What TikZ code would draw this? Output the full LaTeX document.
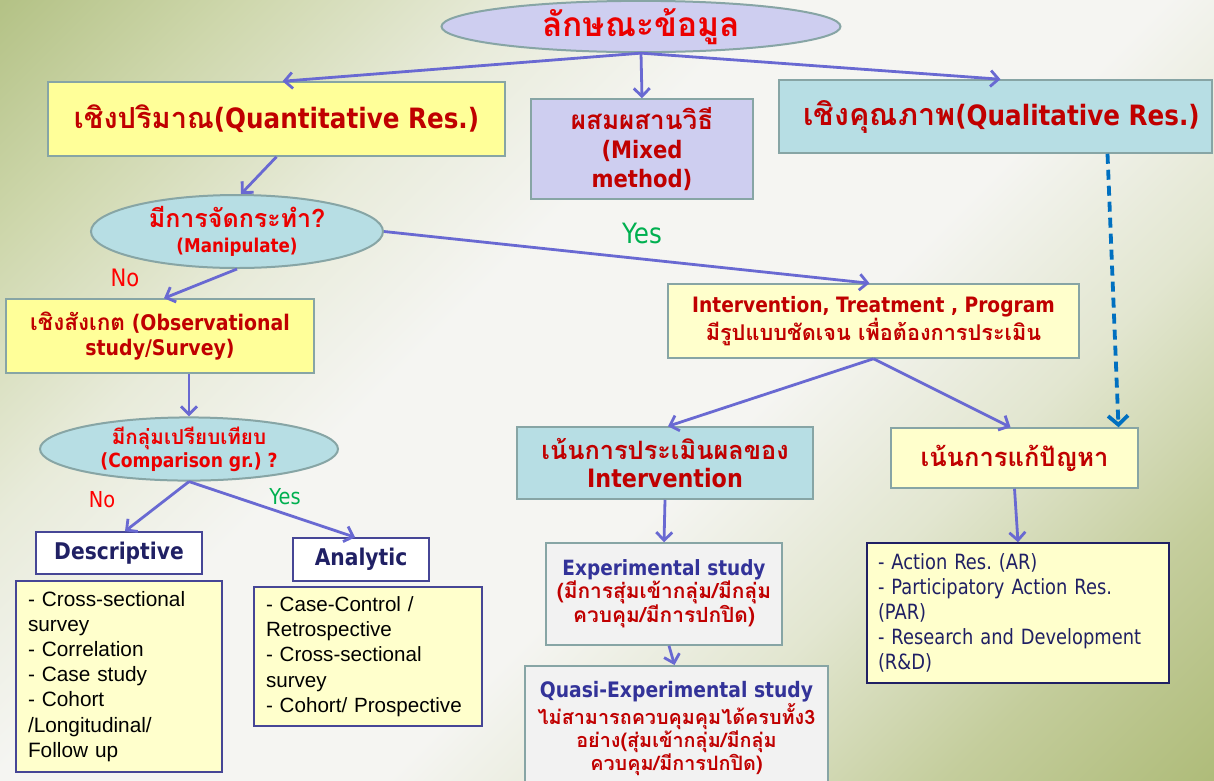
\documentclass[tikz,border=0pt]{standalone}
\usepackage{fontspec}
\setmainfont{DejaVu Sans}[FakeStretch=0.88]
\newfontfamily\thai[Script=Thai]{Loma}
\newfontfamily\arialf{Liberation Sans}
\newfontfamily\condf{DejaVu Sans}[FakeStretch=0.85]
\usetikzlibrary{shapes.geometric,arrows.meta,calc}
\frenchspacing
\newcommand\thtxt[2]{{\fontsize{#1}{#1}\selectfont\thai #2}}
\definecolor{bgA}{RGB}{175,188,122}
\definecolor{bgB}{RGB}{196,205,156}
\definecolor{bgC}{RGB}{226,230,208}
\definecolor{bgW}{RGB}{245,245,242}
\definecolor{bgD}{RGB}{232,235,218}
\definecolor{bgE}{RGB}{206,215,172}
\definecolor{bgF}{RGB}{180,194,134}
\pgfdeclareverticalshading{bgshade}{100bp}{color(0bp)=(bgA); color(14.6bp)=(bgA); color(24bp)=(bgB); color(34bp)=(bgC); color(44bp)=(bgW); color(58bp)=(bgW); color(67bp)=(bgD); color(77bp)=(bgE); color(85.4bp)=(bgF); color(100bp)=(bgF)}
\definecolor{bordc}{RGB}{135,165,165}
\definecolor{arrc}{RGB}{105,105,210}
\definecolor{dashc}{RGB}{0,112,192}
\definecolor{yel}{RGB}{255,255,153}
\definecolor{lyel}{RGB}{255,255,204}
\definecolor{lblue}{RGB}{183,222,228}
\definecolor{lav}{RGB}{206,206,240}
\definecolor{lgray}{RGB}{242,242,242}
\definecolor{dred}{RGB}{192,0,0}
\definecolor{bred}{RGB}{235,0,0}
\definecolor{gr}{RGB}{0,176,80}
\definecolor{navy}{RGB}{32,32,100}
\definecolor{blu}{RGB}{51,51,153}
\definecolor{navbord}{RGB}{70,70,150}
\tikzset{
  box/.style={draw=bordc, line width=1.5pt, rectangle, inner sep=0pt, align=center, text=dred},
  ell/.style={ellipse, draw=bordc, line width=2pt, inner sep=0pt, align=center, fill=lblue, text=bred},
  listbox/.style={draw=navbord, line width=1.5pt, rectangle, inner sep=0pt, fill=lyel, align=left},
  arr/.style={draw=arrc, line width=2.8pt, -{Straight Barb[length=8pt,width=16pt]}},
  dasharr/.style={draw=dashc, line width=3.8pt, dash pattern=on 10pt off 6pt, -{Straight Barb[length=9pt,width=20pt]}},
  lbl/.style={inner sep=0pt},
}
\begin{document}
\begin{tikzpicture}[x=1pt,y=-1pt]
\useasboundingbox (0,0) rectangle (1214,780);
\clip (0,0) rectangle (1214,780);
\shade[shading=bgshade, shading angle=45] (0,0) rectangle (1214,780);

\node[ell, fill=lav, minimum width=399, minimum height=47, font=\bfseries] (top) at (641,26.5) {\thtxt{33.5}{ลักษณะข้อมูล}};
\node[box, fill=yel, minimum width=457, minimum height=74, font=\fontsize{28}{30}\selectfont\bfseries] (quant) at (276.5,119) {\thtxt{29}{เชิงปริมาณ}(Quantitative Res.)};
\node[box, fill=lav, minimum width=222, minimum height=100, font=\fontsize{24}{29}\selectfont\bfseries] (mixed) at (642,149) {\thtxt{26}{ผสมผสานวิธี}\\(Mixed\\method)};
\node[box, fill=lblue, minimum width=433, minimum height=73, font=\fontsize{28}{30}\selectfont\bfseries] (qual) at (995.5,116.5) {\hspace{12pt}\thtxt{30.5}{เชิงคุณภาพ}(Qualitative Res.)};

\node[ell, minimum width=292, minimum height=73, font=\fontsize{19}{25}\selectfont\bfseries] (manip) at (237,231.5) {\thtxt{25}{มีการจัดกระทำ?}\\(Manipulate)};
\node[box, fill=yel, minimum width=308, minimum height=74, font=\fontsize{21.5}{25}\selectfont\bfseries] (obs) at (160,336) {\thtxt{22.6}{เชิงสังเกต} (Observational\\study/Survey)};
\node[box, fill=lyel, minimum width=411, minimum height=74, font=\fontsize{21.2}{23}\selectfont\bfseries] (interv) at (873.5,321) {Intervention, Treatment , Program\\\thtxt{21.7}{มีรูปแบบชัดเจน เพื่อต้องการประเมิน}};

\node[ell, minimum width=298, minimum height=52, font=\fontsize{19.5}{23}\selectfont\bfseries] (comp) at (189,449) {\thtxt{20.6}{มีกลุ่มเปรียบเทียบ}\\(Comparison gr.) ?};
\node[box, draw=navbord, fill=white, text=navy, minimum width=166, minimum height=42, font=\fontsize{23}{25}\selectfont\bfseries] (desc) at (119,553) {Descriptive};
\node[box, draw=navbord, fill=white, text=navy, minimum width=136, minimum height=43, font=\fontsize{23}{25}\selectfont\bfseries] (anal) at (361,559.5) {Analytic};

\node[listbox, minimum width=206, minimum height=191, text width=182, font=\arialf\fontsize{20.8}{25.1}\selectfont] (desclist) at (119,676.5) {- Cross-sectional\\survey\\- Correlation\\- Case study\\- Cohort\\/Longitudinal/\\Follow up};
\node[listbox, minimum width=228, minimum height=139, text width=204, font=\arialf\fontsize{20.6}{25.2}\selectfont] (anallist) at (368,656.5) {- Case-Control /\\Retrospective\\- Cross-sectional\\survey\\- Cohort/ Prospective};

\node[box, fill=lblue, minimum width=296, minimum height=72, font=\fontsize{25.3}{28}\selectfont\bfseries] (eval) at (665,463) {\thtxt{25.3}{เน้นการประเมินผลของ}\\Intervention};
\node[box, fill=lyel, minimum width=247, minimum height=60, font=\bfseries] (prob) at (1014.5,458) {\thtxt{25.5}{เน้นการแก้ปัญหา}};

\node[box, fill=lgray, minimum width=236, minimum height=102, font=\fontsize{21}{23}\selectfont\bfseries] (exper) at (664,594) {{\color{blu}Experimental study}\\\thtxt{20.9}{(มีการสุ่มเข้ากลุ่ม/มีกลุ่ม}\\\thtxt{20.9}{ควบคุม/มีการปกปิด)}};
\node[box, fill=lgray, anchor=north, minimum width=303, minimum height=126, font=\fontsize{21.3}{23.3}\selectfont\bfseries] (quasi) at (676.5,665) {{\color{blu}Quasi-Experimental study}\\\thtxt{19.8}{ไม่สามารถควบคุมคุมได้ครบทั้ง3}\\\thtxt{19.8}{อย่าง(สุ่มเข้ากลุ่ม/มีกลุ่ม}\\\thtxt{19.8}{ควบคุม/มีการปกปิด)}};

\node[listbox, draw=navy, minimum width=302, minimum height=140, text width=280, text=navy, font=\condf\fontsize{21}{25}\selectfont] (actlist) at (1018,613) {- Action Res. (AR)\\- Participatory Action Res.\\(PAR)\\- Research and Development\\(R\&D)};

\node[lbl, text=red, font=\fontsize{24}{26}\selectfont] (noa) at (125,278) {No};
\node[lbl, text=gr, font=\fontsize{28}{30}\selectfont] (yesa) at (642,233) {Yes};
\node[lbl, text=red, font=\fontsize{22}{24}\selectfont] (nob) at (102,500) {No};
\node[lbl, text=gr, font=\fontsize{22}{24}\selectfont] (yesb) at (285,497) {Yes};

\draw[arr] (top.south) -- ($(quant.north)+(6,0)$);
\draw[arr] (top.south) -- (mixed.north);
\draw[arr] (top.south) -- ($(qual.north)+(5,0)$);
\draw[arr] (quant.south) -- ($(manip.north)+(4,0)$);
\draw[arr] (manip.south) -- ($(obs.north)+(4,0)$);
\draw[arr] (manip.east) -- ($(interv.north)+(-4,0)$);
\draw[arr] (obs.south -| comp.north) -- (comp.north);
\draw[arr] (comp.south) -- ($(desc.north)+(6,0)$);
\draw[arr] (comp.south) -- ($(anal.north)+(-6,0)$);
\draw[arr] (interv.south) -- ($(eval.north)+(3,0)$);
\draw[arr] (interv.south) -- ($(prob.north)+(-4,0)$);
\draw[arr] (eval.south) -- (exper.north);
\draw[arr] ($(exper.south)+(5,0)$) -- ($(quasi.north)+(-2,0)$);
\draw[arr] (prob.south) -- (actlist.north);
\draw[dasharr] ($(qual.south)+(112,0)$) -- ($(prob.north)+(104,0)$);
\end{tikzpicture}
\end{document}
